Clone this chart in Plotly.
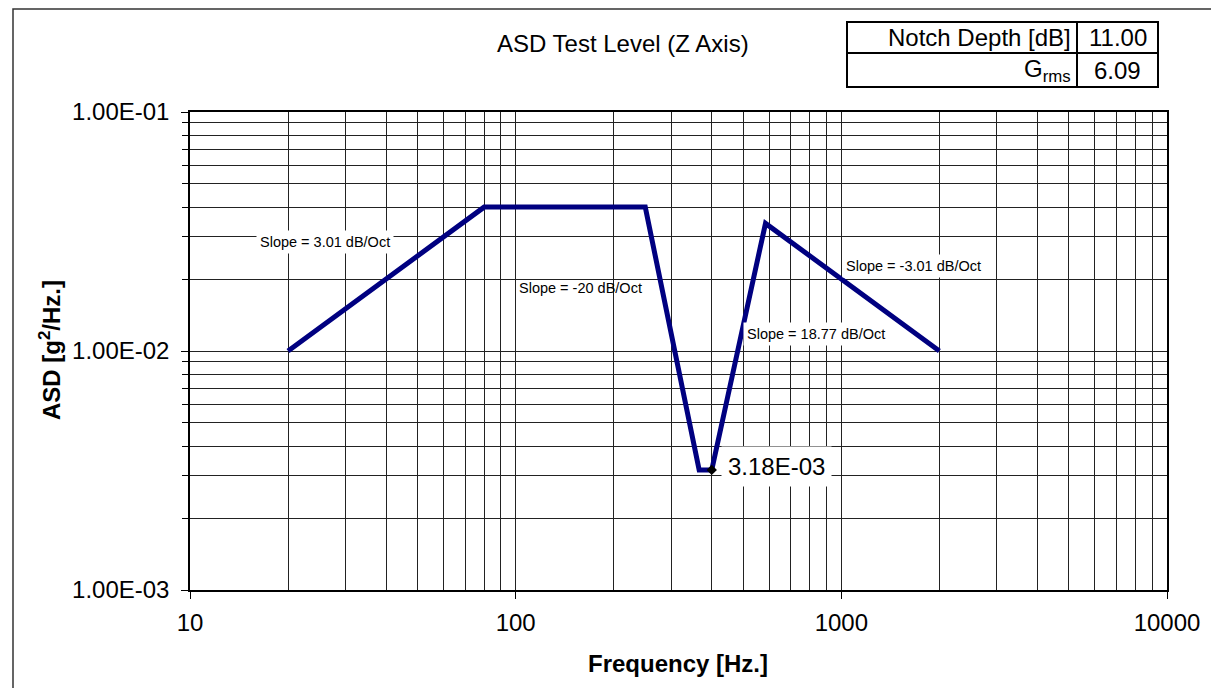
import plotly.graph_objects as go

# ---- data ----
freq = [20, 80, 250, 366, 400, 585, 2000]
asd = [0.01, 0.04, 0.04, 0.00318, 0.00318, 0.0342, 0.01]
notch_f = [400]
notch_asd = [0.00318]

x_tickvals = [10, 100, 1000, 10000]
x_ticktext = ["10", "100", "1000", "10000"]
y_tickvals = [0.001, 0.01, 0.1]
y_ticktext = ["1.00E-03", "1.00E-02", "1.00E-01"]

slope_labels = ["Slope = 3.01 dB/Oct", "Slope = -20 dB/Oct",
                "Slope = -3.01 dB/Oct", "Slope = 18.77 dB/Oct"]
notch_label = "3.18E-03"
table_rows = [("Notch Depth [dB]", "11.00"), ("G<sub>rms</sub>", "6.09")]

# page offset (body margin) and target screen geometry
OFF = 8
W, H = 1219 - 2 * OFF, 696 - 2 * OFF
SL, SR, ST, SB = 190, 1167, 112, 590          # plot area in screen px
L, R, T, B = SL - OFF, SR - OFF, ST - OFF, SB - OFF
FONT = "Liberation Sans, Arial, sans-serif"
BIG = 24
SMALL = 14.5


def px(sx):
    return (sx - SL) / (SR - SL)


def py(sy):
    return (SB - sy) / (SB - ST)


fig = go.Figure()
fig.add_trace(go.Scatter(x=freq, y=asd, mode="lines",
                         line=dict(color="#000080", width=5),
                         showlegend=False, hoverinfo="skip"))
fig.add_trace(go.Scatter(x=notch_f, y=notch_asd, mode="markers",
                         marker=dict(symbol="diamond", size=8, color="black"),
                         showlegend=False, hoverinfo="skip"))

grid = "#222222"
fig.update_xaxes(type="log", range=[1, 4], tickmode="array",
                 tickvals=x_tickvals, ticktext=x_ticktext,
                 ticks="outside", ticklen=7, tickcolor="black",
                 ticklabelstandoff=3,
                 showgrid=True, gridcolor=grid, gridwidth=1,
                 showline=True, linecolor="black", linewidth=1.5, mirror=True,
                 minor=dict(tickmode="linear", dtick="D1", showgrid=True,
                            gridcolor=grid, gridwidth=1, ticks=""),
                 tickfont=dict(family=FONT, size=BIG, color="black"),
                 zeroline=False)
fig.update_yaxes(type="log", range=[-3, -1], tickmode="array",
                 tickvals=y_tickvals, ticktext=y_ticktext,
                 ticks="outside", ticklen=7, tickcolor="black",
                 ticklabelstandoff=7,
                 showgrid=True, gridcolor=grid, gridwidth=1,
                 showline=True, linecolor="black", linewidth=1.5, mirror=True,
                 minor=dict(tickmode="linear", dtick="D1", showgrid=True,
                            gridcolor=grid, gridwidth=1, ticks="outside",
                            ticklen=6, tickcolor="black"),
                 tickfont=dict(family=FONT, size=BIG, color="black"),
                 zeroline=False)

ann = []


def add_text(text, sx, sy, size=BIG, xanchor="center", **kw):
    ann.append(dict(text=text, x=px(sx), y=py(sy), xref="paper", yref="paper",
                    xanchor=xanchor, yanchor="middle", showarrow=False,
                    font=dict(family=FONT, size=size, color="black"), **kw))


# title and axis titles
add_text("ASD Test Level (Z Axis)", 623, 44)
add_text("<b>Frequency [Hz.]</b>", 678, 663)
add_text("<b>ASD [g<sup>2</sup>/Hz.]</b>", 50, 350, textangle=-90)

# slope labels (positions in screen pixels)
slope_pos = [(325, 242, True), (580, 288, False), (913, 266, True), (816, 334, True)]
for txt, (sx, sy, bg) in zip(slope_labels, slope_pos):
    if bg:
        add_text(txt, sx, sy, size=SMALL, bgcolor="white", borderpad=3)
    else:
        add_text(txt, sx, sy, size=SMALL)
add_text(notch_label, 776, 466, bgcolor="white", borderpad=6)

# table
tx0, tx1, tx2 = 847, 1077, 1158
ty = [22, 53, 87]
shapes = []
shapes.append(dict(type="rect", xref="paper", yref="paper",
                   x0=px(tx0), x1=px(tx2), y0=py(ty[0]), y1=py(ty[2]),
                   line=dict(color="black", width=2), fillcolor="white", layer="above"))
shapes.append(dict(type="line", xref="paper", yref="paper",
                   x0=px(tx0), x1=px(tx2), y0=py(ty[1]), y1=py(ty[1]),
                   line=dict(color="black", width=2), layer="above"))
shapes.append(dict(type="line", xref="paper", yref="paper",
                   x0=px(tx1), x1=px(tx1), y0=py(ty[0]), y1=py(ty[2]),
                   line=dict(color="black", width=2), layer="above"))
for i, (lab, val) in enumerate(table_rows):
    yc = (ty[i] + ty[i + 1]) / 2
    add_text(lab, tx1 - 4, yc, xanchor="right")
    add_text(val, (tx1 + tx2) / 2, yc)

# outer frame
shapes.append(dict(type="rect", xref="paper", yref="paper",
                   x0=px(13), x1=px(1260), y0=py(9), y1=py(740),
                   line=dict(color="#333333", width=1.5), layer="below"))

fig.update_layout(width=W, height=H, margin=dict(l=L, r=W - R, t=T, b=H - B),
                  paper_bgcolor="white", plot_bgcolor="white",
                  annotations=ann, shapes=shapes, showlegend=False)

fig.write_html("out.html")
